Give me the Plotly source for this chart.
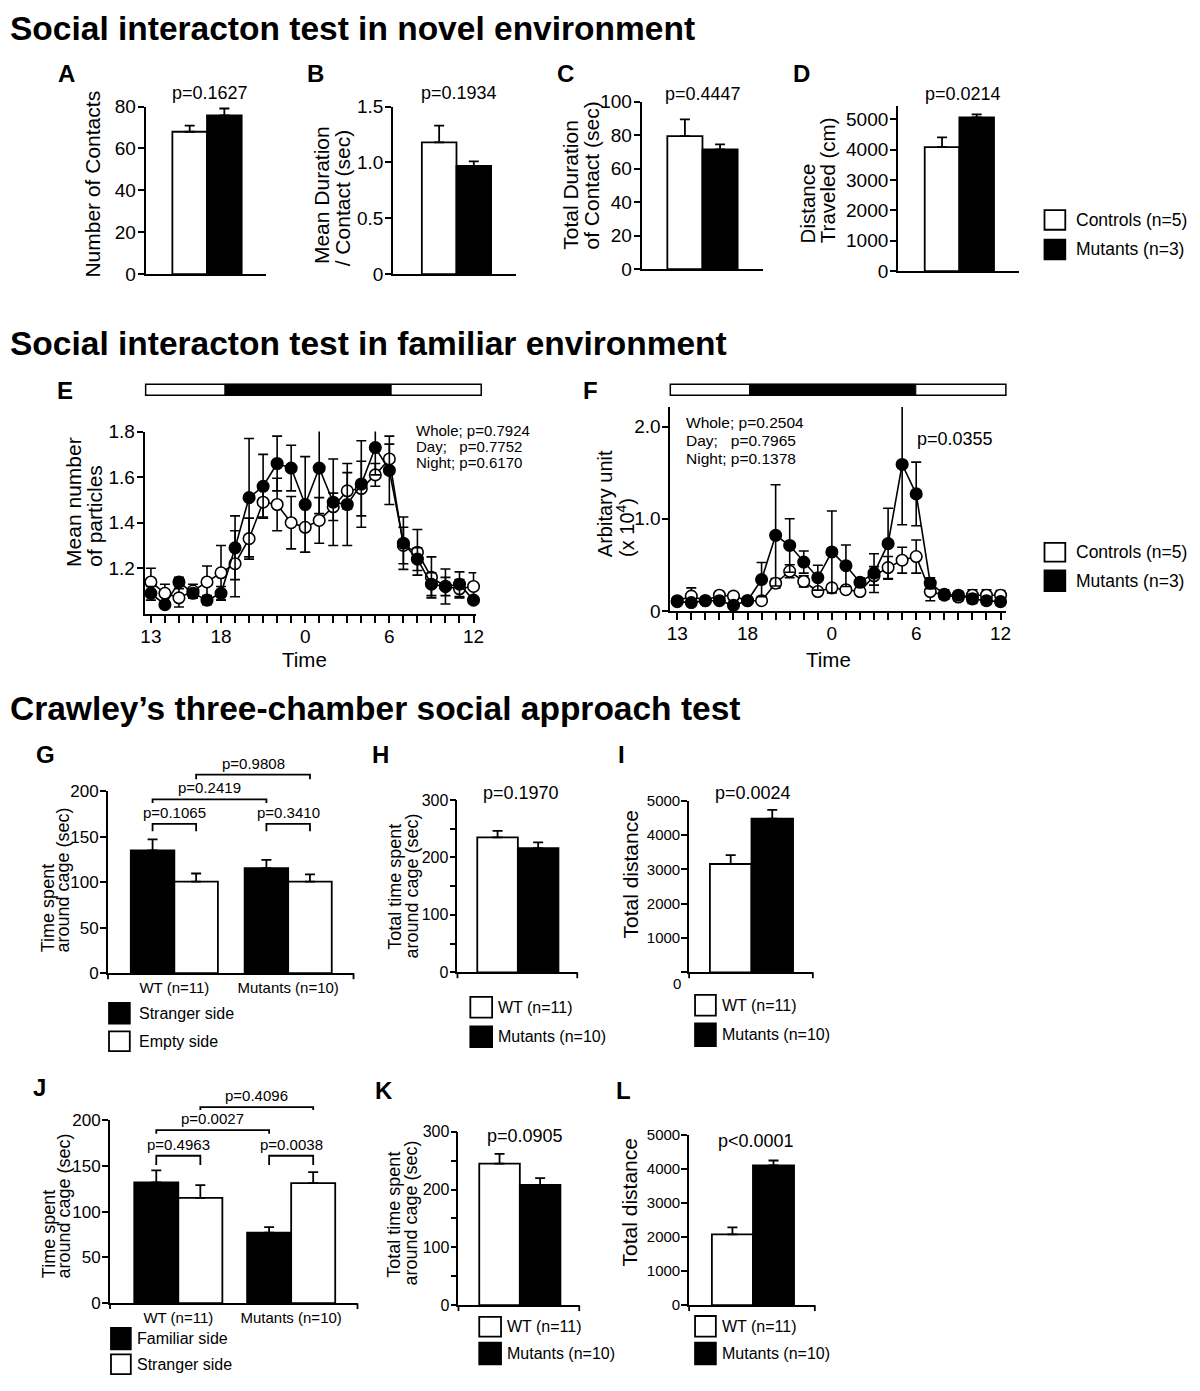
import plotly.graph_objects as go

# The page body has an 8px default margin, so the figure is made 8px smaller
# and every layout position below is given in window pixels.
OFF = 8
W, H = 1200 - OFF, 1391 - OFF
FONT = "Liberation Sans, Arial, Helvetica, sans-serif"
LW = 1.8

# ---------------- data: novel environment ----------------
novel_groups = ["Controls (n=5)", "Mutants (n=3)"]
a_contacts = [68.0, 75.8]
a_contacts_err = [2.9, 3.3]
b_mean_duration = [1.18, 0.97]
b_mean_duration_err = [0.15, 0.04]
c_total_duration = [79.5, 71.5]
c_total_duration_err = [10.0, 3.0]
d_distance = [4090, 5065]
d_distance_err = [320, 100]
novel_p = ["p=0.1627", "p=0.1934", "p=0.4447", "p=0.0214"]

# ---------------- data: familiar environment ----------------
hours = ["13", "14", "15", "16", "17", "18", "19", "20", "21", "22", "23", "0",
         "1", "2", "3", "4", "5", "6", "7", "8", "9", "10", "11", "12"]
hour_labels_shown = ["13", "18", "0", "6", "12"]
e_controls = [1.14, 1.09, 1.07, 1.10, 1.14, 1.18, 1.22, 1.33, 1.49, 1.48, 1.40, 1.38,
              1.41, 1.47, 1.54, 1.55, 1.61, 1.68, 1.30, 1.27, 1.16, 1.12, 1.11, 1.12]
e_controls_err = [0.06, 0.04, 0.04, 0.03, 0.07, 0.12, 0.145, 0.09, 0.065, 0.115, 0.115, 0.11,
                  0.10, 0.06, 0.08, 0.12, 0.05, 0.065, 0.08, 0.10, 0.09, 0.04, 0.04, 0.06]
e_mutants = [1.09, 1.04, 1.14, 1.09, 1.06, 1.09, 1.29, 1.51, 1.56, 1.66, 1.64, 1.48,
             1.64, 1.49, 1.48, 1.57, 1.73, 1.63, 1.31, 1.24, 1.13, 1.12, 1.13, 1.06]
e_mutants_err = [0.03, 0.015, 0.02, 0.02, 0.02, 0.03, 0.14, 0.26, 0.14, 0.12, 0.10, 0.21,
                 0.20, 0.19, 0.18, 0.19, 0.12, 0.15, 0.115, 0.05, 0.05, 0.077, 0.054, 0.015]
f_controls = [0.11, 0.16, 0.11, 0.17, 0.16, 0.11, 0.11, 0.30, 0.43, 0.32, 0.21, 0.25,
              0.23, 0.21, 0.38, 0.47, 0.55, 0.59, 0.21, 0.17, 0.15, 0.17, 0.17, 0.17]
f_controls_err = [0.03, 0.09, 0.02, 0.04, 0.04, 0.02, 0.02, 0.05, 0.07, 0.06, 0.03, 0.03,
                  0.02, 0.02, 0.10, 0.12, 0.14, 0.18, 0.10, 0.04, 0.04, 0.06, 0.06, 0.05]
f_mutants = [0.10, 0.09, 0.11, 0.11, 0.06, 0.11, 0.34, 0.82, 0.71, 0.53, 0.36, 0.64,
             0.49, 0.31, 0.41, 0.73, 1.59, 1.27, 0.30, 0.18, 0.17, 0.13, 0.11, 0.10]
f_mutants_err = [0.03, 0.03, 0.03, 0.03, 0.03, 0.03, 0.185, 0.55, 0.29, 0.12, 0.135, 0.445,
                 0.225, 0.05, 0.21, 0.385, 0.655, 0.345, 0.06, 0.05, 0.04, 0.05, 0.04, 0.04]
e_stats = ["Whole; p=0.7924", "Day;\u00a0\u00a0\u00a0p=0.7752", "Night; p=0.6170"]
f_stats = ["Whole; p=0.2504", "Day;\u00a0\u00a0\u00a0p=0.7965", "Night; p=0.1378"]
f_peak_p = "p=0.0355"

# ---------------- data: three-chamber test ----------------
chamber_groups = ["WT (n=11)", "Mutants (n=10)"]
g_sides = ["Stranger side", "Empty side"]
g_stranger = [135.0, 115.5]
g_stranger_err = [12.0, 9.0]
g_empty = [100.5, 100.5]
g_empty_err = [9.0, 8.0]
# (label, (group, side), (group, side), bracket top, leg end)  in sec
g_brackets = [
    ("p=0.1065", (0, 0), (0, 1), 164, 156),
    ("p=0.3410", (1, 0), (1, 1), 164, 156),
    ("p=0.2419", (0, 0), (1, 0), 191, 187),
    ("p=0.9808", (0, 1), (1, 1), 218, 213),
]
h_total_time = [235.0, 216.0]
h_total_time_err = [11.0, 10.0]
h_p = "p=0.1970"
i_total_distance = [3160, 4480]
i_total_distance_err = [260, 260]
i_p = "p=0.0024"
j_sides = ["Familiar side", "Stranger side"]
j_familiar = [132.0, 77.0]
j_familiar_err = [13.0, 6.0]
j_stranger = [115.0, 131.0]
j_stranger_err = [14.0, 12.0]
j_brackets = [
    ("p=0.4963", (0, 0), (0, 1), 161, 151),
    ("p=0.0038", (1, 0), (1, 1), 161, 151),
    ("p=0.0027", (0, 0), (1, 0), 189, 185),
    ("p=0.4096", (0, 1), (1, 1), 214, 211),
]
k_total_time = [245.0, 208.0]
k_total_time_err = [17.0, 12.0]
k_p = "p=0.0905"
l_total_distance = [2080, 4100]
l_total_distance_err = [200, 145]
l_p = "p<0.0001"

# ---------------- helpers ----------------
traces, shapes, annotations = [], [], []
layout_axes = {}
_count = [0]


def fx(x):
    return (x - OFF) / W


def fy(y):
    return 1 - (y - OFF) / H


class Panel:
    def __init__(self, box, xr, yr):
        _count[0] += 1
        n = _count[0]
        self.xid = "x" if n == 1 else f"x{n}"
        self.yid = "y" if n == 1 else f"y{n}"
        self.xkey = "xaxis" if n == 1 else f"xaxis{n}"
        self.ykey = "yaxis" if n == 1 else f"yaxis{n}"
        self.x0, self.x1, self.ytop, self.ybot = box
        self.xr, self.yr = xr, yr

    def px_x(self, v):
        return self.x0 + (v - self.xr[0]) / (self.xr[1] - self.xr[0]) * (self.x1 - self.x0)

    def px_y(self, v):
        return self.ybot - (v - self.yr[0]) / (self.yr[1] - self.yr[0]) * (self.ybot - self.ytop)


def axis_style(**kw):
    d = dict(showline=True, linecolor="black", linewidth=LW, showgrid=False, zeroline=False,
             ticks="outside", tickcolor="black", tickwidth=LW, ticklen=6, fixedrange=True,
             ticklabelstandoff=-2,
             tickfont=dict(family=FONT, size=19, color="black"))
    d.update(kw)
    return d


def new_panel(box, xr, yr, xkw, ykw):
    p = Panel(box, xr, yr)
    layout_axes[p.xkey] = axis_style(domain=[fx(p.x0), fx(p.x1)], range=xr, anchor=p.yid, **xkw)
    layout_axes[p.ykey] = axis_style(domain=[fy(p.ybot), fy(p.ytop)], range=yr,
                                     anchor=p.xid, **ykw)
    return p


def text(x, y, s, size, xanchor="center", yanchor="middle", angle=0, bold=False):
    if bold:
        s = f"<b>{s}</b>"
    annotations.append(dict(x=fx(x), y=fy(y), xref="paper", yref="paper", text=s,
                            showarrow=False, xanchor=xanchor, yanchor=yanchor, textangle=angle,
                            font=dict(family=FONT, size=size, color="black"), borderpad=0))


def rect(x0, y0, x1, y1, fill, lw=LW):
    shapes.append(dict(type="rect", xref="paper", yref="paper", x0=fx(x0), x1=fx(x1),
                       y0=fy(y1), y1=fy(y0), fillcolor=fill,
                       line=dict(color="black", width=lw), layer="above"))


def end_ticks(p, length=6):
    # small downward ticks at both ends of the x axis line
    for x in (p.x0, p.x1):
        shapes.append(dict(type="line", xref="paper", yref="paper", x0=fx(x), x1=fx(x),
                           y0=fy(p.ybot), y1=fy(p.ybot + length),
                           line=dict(color="black", width=LW)))


def legend(xb0, xb1, xt, rows, size):
    for (yt, yb, fill, label) in rows:
        rect(xb0, yt, xb1, yb, fill)
        text(xt, (yt + yb) / 2, label, size, xanchor="left")


def yticks(vals, labels, size):
    return dict(tickmode="array", tickvals=vals, ticktext=labels,
                tickfont=dict(family=FONT, size=size, color="black"))


def pair_panel(cats, vals, errs, box, bar_edges, yr, ytv, ytt, tick_size):
    x0, x1 = box[0], box[1]
    left, right = bar_edges
    unit = (right - left) / 2
    c0 = left + unit / 2
    xr = [(x0 - c0) / unit, (x1 - c0) / unit]
    p = new_panel(box, xr, yr,
                  dict(type="category", categoryorder="array", categoryarray=cats,
                       showticklabels=False, ticks=""),
                  yticks(ytv, ytt, tick_size))
    traces.append(go.Bar(x=cats, y=vals, width=1.0,
                         marker=dict(color=["white", "black"], line=dict(color="black", width=LW)),
                         error_y=dict(type="data", array=errs, arrayminus=[0] * len(errs),
                                      symmetric=False, color="black", thickness=LW, width=5),
                         xaxis=p.xid, yaxis=p.yid, hoverinfo="skip"))
    return p


def grouped_panel(cats, series, box, centers, bw_px, yr, ytv, ytt, tick_size):
    x0, x1 = box[0], box[1]
    unit = centers[1] - centers[0]
    xr = [(x0 - centers[0]) / unit, (x1 - centers[0]) / unit]
    bw = bw_px / unit
    p = new_panel(box, xr, yr,
                  dict(type="category", categoryorder="array", categoryarray=cats,
                       ticks="", ticklen=0, ticklabelstandoff=0,
                       tickfont=dict(family=FONT, size=15, color="black")),
                  yticks(ytv, ytt, tick_size))
    for k, (vals, errs, fill) in enumerate(series):
        traces.append(go.Bar(x=cats, y=vals, width=bw, offset=-bw + k * bw,
                             marker=dict(color=fill, line=dict(color="black", width=LW)),
                             error_y=dict(type="data", array=errs, arrayminus=[0] * len(errs),
                                          symmetric=False, color="black", thickness=LW, width=5),
                             xaxis=p.xid, yaxis=p.yid, hoverinfo="skip"))
    p.bw = bw
    return p


def draw_brackets(p, brackets):
    for label, (g1, s1), (g2, s2), top, leg in brackets:
        xa = p.px_x(g1 + (s1 - 0.5) * p.bw)
        xb = p.px_x(g2 + (s2 - 0.5) * p.bw)
        yt, yl = p.px_y(top), p.px_y(leg)
        path = (f"M {fx(xa)},{fy(yl)} L {fx(xa)},{fy(yt)} "
                f"L {fx(xb)},{fy(yt)} L {fx(xb)},{fy(yl)}")
        shapes.append(dict(type="path", xref="paper", yref="paper", path=path,
                           line=dict(color="black", width=LW)))
        text((xa + xb) / 2, yt - 2, label, 15, yanchor="bottom")


def series_trace(p, y, err, fill):
    traces.append(go.Scatter(x=hours, y=y, mode="lines+markers",
                             line=dict(color="black", width=1.6),
                             marker=dict(size=11.5, color=fill, line=dict(color="black", width=1.6)),
                             error_y=dict(type="data", array=err, color="black", thickness=1.6, width=5),
                             cliponaxis=False, xaxis=p.xid, yaxis=p.yid, hoverinfo="skip"))


def time_panel(box, first_px, step_px, yr, ytv, ytt):
    x0, x1 = box[0], box[1]
    xr = [(x0 - first_px) / step_px, (x1 - first_px) / step_px]
    return new_panel(box, xr, yr,
                     dict(type="category", categoryorder="array", categoryarray=hours,
                          tickmode="array", tickvals=hours,
                          ticktext=[h if h in hour_labels_shown else "" for h in hours],
                          ticklen=7, ticklabelstandoff=-3),
                     yticks(ytv, ytt, 19))


# ---------------- section titles ----------------
text(5, 19, "Social interacton test in novel environment", 33.5, xanchor="left", bold=True)
text(5, 339, "Social interacton test in familiar environment", 33.5, xanchor="left", bold=True)
text(5, 709, "Crawley\u2019s three-chamber social approach test", 33.5, xanchor="left", bold=True)

# ---------------- row 1: A-D ----------------
pa = pair_panel(novel_groups, a_contacts, a_contacts_err, (143, 265, 98, 268), (170, 240),
                [0, 80], [0, 20, 40, 60, 80], ["0", "20", "40", "60", "80"], 19)
pb = pair_panel(novel_groups, b_mean_duration, b_mean_duration_err, (393, 517, 98, 268), (422, 492),
                [0, 1.5], [0, 0.5, 1.0, 1.5], ["0", "0.5", "1.0", "1.5"], 19)
pc = pair_panel(novel_groups, c_total_duration, c_total_duration_err, (644, 767, 93, 263), (670, 741),
                [0, 100], [0, 20, 40, 60, 80, 100], ["0", "20", "40", "60", "80", "100"], 19)
pd_ = pair_panel(novel_groups, d_distance, d_distance_err, (903, 1025, 97, 265), (930, 1000),
                 [0, 5454], [0, 1000, 2000, 3000, 4000, 5000],
                 ["0", "1000", "2000", "3000", "4000", "5000"], 19)

for lab, (lx, ly) in zip("ABCD", [(63, 64), (315, 64), (567, 64), (806, 64)]):
    text(lx, ly, lab, 24, bold=True)
for s, (px, py) in zip(novel_p, [(208, 84), (460, 84), (706, 85), (969, 85)]):
    text(px, py, s, 18)

text(89, 177, "Number of Contacts", 21, angle=-90)
text(320, 259, "Mean Duration", 21, angle=-90, yanchor="bottom")
text(342, 261, "/ Contact (sec)", 21, angle=-90, yanchor="bottom")
text(572, 244, "Total Duration", 21, angle=-90, yanchor="bottom")
text(593, 244, "of Contact (sec)", 21, angle=-90, yanchor="bottom")
text(812, 238, "Distance", 20.5, angle=-90, yanchor="bottom")
text(832, 238, "Traveled (cm)", 20.5, angle=-90, yanchor="bottom")

legend(1051, 1072, 1082, [(203, 223, "white", novel_groups[0]), (233, 253, "black", novel_groups[1])], 17.5)

# ---------------- row 2: E, F ----------------
pe = time_panel((142, 477, 428, 613), 148.3, 14.17, [1.0, 1.8],
                [1.2, 1.4, 1.6, 1.8], ["1.2", "1.4", "1.6", "1.8"])
series_trace(pe, e_controls, e_controls_err, "white")
series_trace(pe, e_mutants, e_mutants_err, "black")

pf = time_panel((673, 1012, 403, 610), 680, 14.2, [0, 2.214],
                [0, 1.0, 2.0], ["0", "1.0", "2.0"])
series_trace(pf, f_controls, f_controls_err, "white")
series_trace(pf, f_mutants, f_mutants_err, "black")

# light / dark schedule bars
rect(143, 380, 482, 391, "white", 1.5)
rect(223, 380, 391, 391, "black", 1)
rect(673, 380, 1012, 391, "white", 1.5)
rect(753, 380, 921, 391, "black", 1)

text(62, 386, "E", 24, bold=True)
text(592, 386, "F", 24, bold=True)
text(70, 566, "Mean number", 21, angle=-90, yanchor="bottom")
text(91, 566, "of particles", 21, angle=-90, yanchor="bottom")
text(607, 556, "Arbitary unit", 20, angle=-90, yanchor="bottom")
text(627, 556, "(x 10<sup>4</sup>)", 20, angle=-90, yanchor="bottom")
text(303, 659, "Time", 20.5)
text(833, 659, "Time", 20.5)
for s, yy in zip(e_stats, [427, 443, 459]):
    text(415, yy, s, 15, xanchor="left")
for s, yy in zip(f_stats, [419, 437, 455]):
    text(688, yy, s, 15.5, xanchor="left")
text(921, 435, f_peak_p, 18, xanchor="left")

legend(1051, 1072, 1082, [(541, 560, "white", novel_groups[0]), (569, 590, "black", novel_groups[1])], 17.5)

# ---------------- row 3: G, H, I ----------------
pg = grouped_panel(chamber_groups,
                   [(g_stranger, g_stranger_err, "black"), (g_empty, g_empty_err, "white")],
                   (105, 353, 793, 978), (172, 287), 44, [0, 200],
                   [0, 50, 100, 150, 200], ["0", "50", "100", "150", "200"], 17)
draw_brackets(pg, g_brackets)
end_ticks(pg)
text(42, 756, "G", 24, bold=True)
text(44, 958, "Time spent", 18, angle=-90, yanchor="bottom")
text(60, 958, "around cage (sec)", 18, angle=-90, yanchor="bottom")
legend(106, 127, 135, [(1008, 1029, "black", g_sides[0]), (1037, 1057, "white", g_sides[1])], 16)

ph = pair_panel(chamber_groups, h_total_time, h_total_time_err, (458, 579, 802, 977), (478, 560),
                [0, 300], [0, 50, 100, 150, 200, 250, 300], ["0", "", "100", "", "200", "", "300"], 16)
end_ticks(ph)
text(380, 756, "H", 24, bold=True)
text(522, 795, h_p, 18)
text(394, 890, "Total time spent", 18, angle=-90)
text(412, 889, "around cage (sec)", 18, angle=-90)
legend(471, 493, 498, [(1002, 1023, "white", chamber_groups[0]), (1032, 1053, "black", chamber_groups[1])], 16)

pi = pair_panel(chamber_groups, i_total_distance, i_total_distance_err, (692, 817, 803, 977), (713, 797),
                [0, 5000], [0, 1000, 2000, 3000, 4000, 5000], ["", "1000", "2000", "3000", "4000", "5000"], 15)
end_ticks(pi)
text(680, 988, "0", 15)
text(624, 756, "I", 24, bold=True)
text(757, 795, i_p, 18)
text(633, 878, "Total distance", 21, angle=-90)
legend(698, 719, 724, [(1000, 1021, "white", chamber_groups[0]), (1029, 1052, "black", chamber_groups[1])], 16)

# ---------------- row 4: J, K, L ----------------
pj = grouped_panel(chamber_groups,
                   [(j_familiar, j_familiar_err, "black"), (j_stranger, j_stranger_err, "white")],
                   (107, 357, 1127, 1313), (176, 290), 44.5, [0, 200],
                   [0, 50, 100, 150, 200], ["0", "50", "100", "150", "200"], 17)
draw_brackets(pj, j_brackets)
end_ticks(pj)
text(36, 1094, "J", 24, bold=True)
text(45, 1289, "Time spent", 18, angle=-90, yanchor="bottom")
text(61, 1289, "around cage (sec)", 18, angle=-90, yanchor="bottom")
legend(108, 128, 133, [(1338, 1360, "black", j_sides[0]), (1365, 1385, "white", j_sides[1])], 16)

pk = pair_panel(chamber_groups, k_total_time, k_total_time_err, (459, 581, 1139, 1315), (480, 562),
                [0, 300], [0, 50, 100, 150, 200, 250, 300], ["0", "", "100", "", "200", "", "300"], 16)
end_ticks(pk)
text(384, 1097, "K", 24, bold=True)
text(526, 1143, k_p, 18)
text(393, 1223, "Total time spent", 18, angle=-90)
text(411, 1221, "around cage (sec)", 18, angle=-90)
legend(480, 502, 507, [(1327, 1347, "white", chamber_groups[0]), (1353, 1375, "black", chamber_groups[1])], 16)

pl = pair_panel(chamber_groups, l_total_distance, l_total_distance_err, (692, 819, 1142, 1315), (715, 798),
                [0, 5000], [0, 1000, 2000, 3000, 4000, 5000], ["0", "1000", "2000", "3000", "4000", "5000"], 15)
end_ticks(pl)
text(626, 1097, "L", 24, bold=True)
text(760, 1148, l_p, 18)
text(632, 1211, "Total distance", 21, angle=-90)
legend(698, 719, 724, [(1326, 1347, "white", chamber_groups[0]), (1353, 1375, "black", chamber_groups[1])], 16)

# ---------------- figure ----------------
fig = go.Figure(data=traces)
fig.update_layout(width=W, height=H, margin=dict(l=0, r=0, t=0, b=0),
                  paper_bgcolor="white", plot_bgcolor="white", showlegend=False,
                  barmode="overlay", font=dict(family=FONT, color="black"),
                  shapes=shapes, annotations=annotations, **layout_axes)
fig.write_html("out.html")
